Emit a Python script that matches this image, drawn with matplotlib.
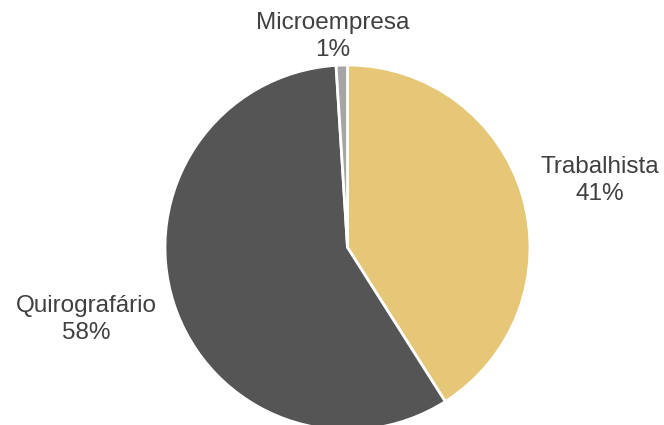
import matplotlib.pyplot as plt

plt.rcParams['font.family'] = ['Liberation Sans', 'DejaVu Sans']

labels = ['Trabalhista', 'Quirografário', 'Microempresa']
values = [41, 58, 1]
pct_labels = ['41%', '58%', '1%']
colors = ['#E6C677', '#555555', '#A5A5A5']

# label positions in axes data units (pie radius = 1)
label_pos = [(1.385, 0.365), (-1.43, -0.395), (-0.08, 1.155)]

fig = plt.figure(figsize=(6.64, 4.25), dpi=100)
cx, cy, r = 347.5, 247.5, 182.5
ax = fig.add_axes([(cx - r) / 664, (425 - cy - r) / 425, 2 * r / 664, 2 * r / 425])

ax.pie(values, colors=colors, startangle=90, counterclock=False,
       wedgeprops=dict(edgecolor='white', linewidth=2))
ax.set_xlim(-1, 1)
ax.set_ylim(-1, 1)
ax.set_aspect('auto')
ax.axis('off')

for lab, pct, (x, y) in zip(labels, pct_labels, label_pos):
    ax.text(x, y, lab + '\n' + pct, ha='center', va='center', fontsize=17.5,
            color='#404040', linespacing=1.3, clip_on=False)

fig.savefig('out.png', dpi=100)
